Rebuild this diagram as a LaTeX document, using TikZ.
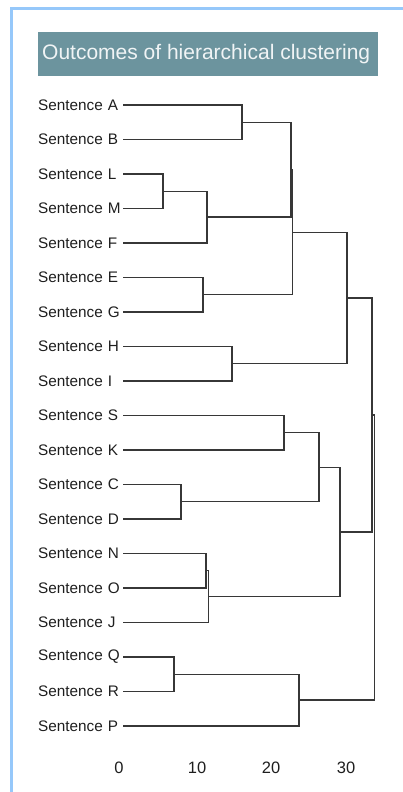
\documentclass[tikz,border=0pt]{standalone}
\usepackage{fontspec}
\setmainfont{Liberation Sans}
\usetikzlibrary{positioning}
\definecolor{FrameBlue}{RGB}{150,200,250}
\definecolor{TitleTeal}{RGB}{108,148,158}
\definecolor{TreeGray}{RGB}{55,55,55}
\definecolor{InkGray}{RGB}{30,30,30}

\begin{document}
\begin{tikzpicture}[x=1pt,y=-1pt,
    leaf/.style={anchor=west,inner sep=0pt,text width=85pt,align=left,
      text=InkGray,font=\fontsize{15.3}{18}\selectfont},
    tick/.style={text=InkGray,font=\fontsize{16.5}{18}\selectfont},
    link/.style={TreeGray,line width=1.25pt}]
  \useasboundingbox (0,0) rectangle (403,792);
  % frame
  \draw[FrameBlue,line width=3pt] (403,9) -- (11,9) -- (11,792);
  % title bar
  \node[fill=TitleTeal,minimum width=340pt,minimum height=44pt,
    anchor=north west,inner sep=0pt] (title) at (38,32) {};
  \begin{scope}
    \clip (title.south west) rectangle (title.north east);
    \node[anchor=west,inner sep=0pt,text=white!90!TitleTeal,
      font=\fontsize{21}{24}\selectfont] (titletext)
      at ([xshift=4pt]title.west) {Outcomes of hierarchical clustering};
  \end{scope}
  % leaves
  \foreach \s [count=\i from 0] in {A,B,L,M,F,E,G,H,I,S,K,C,D,N,O,J,Q,R,P}
    \node[leaf] (\s) at (38,105+34.5*\i) {Sentence \s};
  % merge points
  \coordinate (ab) at (242,122.25);
  \coordinate (lm) at (163,191.25);
  \coordinate (lmf) at (207,217.1);
  \coordinate (eg) at (203,294.75);
  \coordinate (abl) at (291,169.7);
  \coordinate (abe) at (292.5,232.2);
  \coordinate (hi) at (232,363.75);
  \coordinate (top) at (347,298);
  \coordinate (sk) at (284,432.75);
  \coordinate (cd) at (181,501.75);
  \coordinate (skcd) at (319,467.25);
  \coordinate (no) at (206,570.75);
  \coordinate (noj) at (208.5,596.6);
  \coordinate (mid) at (340,531.9);
  \coordinate (upper) at (372,415);
  \coordinate (qr) at (174,674.25);
  \coordinate (qrp) at (299,700.1);
  \coordinate (root) at (374.5,557.5);
  % tree
  \draw[link] (A.east) -| (ab) |- (B.east);
  \draw[link] (L.east) -| (lm) |- (M.east);
  \draw[link] (lm) -| (lmf) |- (F.east);
  \draw[link] (E.east) -| (eg) |- (G.east);
  \draw[link] (ab) -| (abl) |- (lmf);
  \draw[link] (abl) -| (abe) |- (eg);
  \draw[link] (H.east) -| (hi) |- (I.east);
  \draw[link] (abe) -| (top) |- (hi);
  \draw[link] (S.east) -| (sk) |- (K.east);
  \draw[link] (C.east) -| (cd) |- (D.east);
  \draw[link] (sk) -| (skcd) |- (cd);
  \draw[link] (N.east) -| (no) |- (O.east);
  \draw[link] (no) -| (noj) |- (J.east);
  \draw[link] (skcd) -| (mid) |- (noj);
  \draw[link] (top) -| (upper) |- (mid);
  \draw[link] (Q.east) -| (qr) |- (R.east);
  \draw[link] (qr) -| (qrp) |- (P.east);
  \draw[link] (upper) -| (root) |- (qrp);
  % scale
  \foreach \v/\px in {0/119,10/197,20/271,30/346}
    \node[tick] (t\v) at (\px,768) {\v};
\end{tikzpicture}
\end{document}
